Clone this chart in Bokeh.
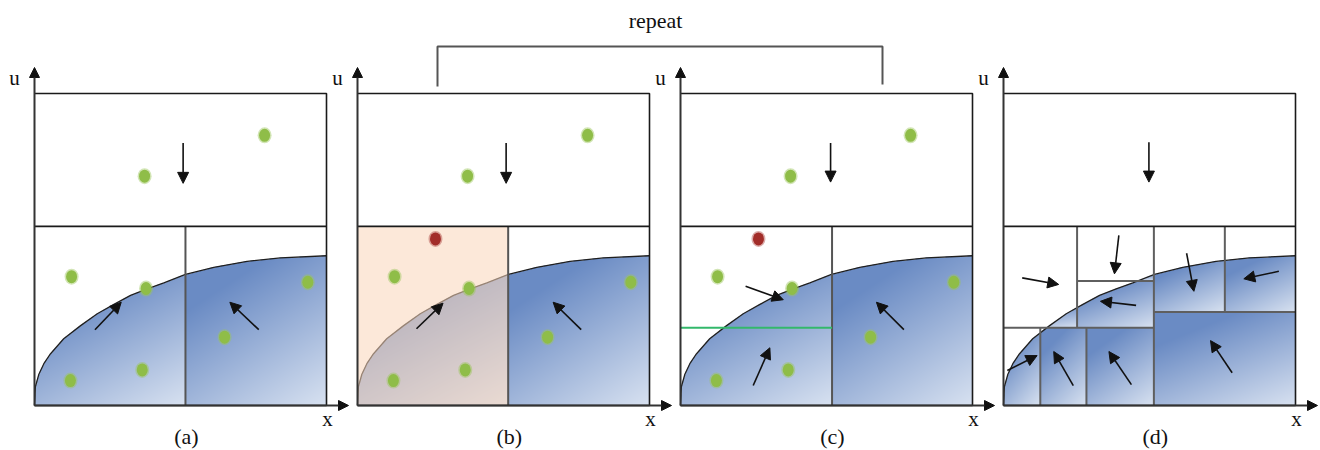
import numpy as np
from bokeh.plotting import figure
from bokeh.models import Range1d, Arrow, NormalHead, ColumnDataSource
from bokeh.core.properties import value
from bokeh.embed import file_html
from bokeh.resources import INLINE

# ---------------- data (panel-local coordinates, x and u in 0..1) ----------------
panel_labels = ["(a)", "(b)", "(c)", "(d)"]
title_text = "repeat"

curve_x = [0.0, 0.003, 0.015, 0.032, 0.055, 0.10, 0.158, 0.215, 0.272, 0.329,
           0.386, 0.443, 0.517, 0.614, 0.728, 0.842, 1.0]
curve_u = [0.0, 0.06, 0.10, 0.134, 0.166, 0.214, 0.256, 0.294, 0.324, 0.353,
           0.374, 0.393, 0.42, 0.443, 0.462, 0.473, 0.48]

split_u = 0.574
divider_x = [0.517, 0.516, 0.519]  # panels a, b, c

green_x = [0.377, 0.788, 0.127, 0.382, 0.936, 0.651, 0.369, 0.123]
green_u = [0.735, 0.866, 0.413, 0.375, 0.395, 0.219, 0.114, 0.080]
red_x = [0.267]
red_u = [0.534]

green_line_u = 0.249  # panel c

# panel d grid: vertical segments (x, u0, u1) and horizontal segments (u, x0, x1)
d_vert_x = [0.252, 0.515, 0.758, 0.126, 0.284]
d_vert_u0 = [0.249, 0.0, 0.30, 0.0, 0.0]
d_vert_u1 = [0.574, 0.574, 0.574, 0.249, 0.249]
d_hor_u = [0.399, 0.249, 0.30]
d_hor_x0 = [0.252, 0.0, 0.515]
d_hor_x1 = [0.515, 0.515, 1.0]

# gradient cells (x0, x1, u0, u1)
cells_abc = [[(0, 0.517, 0, 0.574), (0.517, 1, 0, 0.574)],
             [(0, 0.516, 0, 0.574), (0.516, 1, 0, 0.574)],
             [(0, 0.519, 0, 0.574), (0.519, 1, 0, 0.574)]]
cells_d = [(0, 0.252, 0.249, 0.574), (0.252, 0.515, 0.399, 0.574), (0.252, 0.515, 0.249, 0.399),
           (0.515, 0.758, 0.30, 0.574), (0.758, 1, 0.30, 0.574), (0.515, 1, 0, 0.30),
           (0, 0.126, 0, 0.249), (0.126, 0.284, 0, 0.249), (0.284, 0.515, 0, 0.249)]

# arrows per panel: (x0, u0, x1, u1)
arrows_a = [(0.509, 0.841, 0.509, 0.712), (0.207, 0.243, 0.297, 0.331), (0.768, 0.243, 0.669, 0.331)]
arrows_b = [(0.509, 0.841, 0.509, 0.712), (0.202, 0.246, 0.293, 0.328), (0.766, 0.243, 0.670, 0.331)]
arrows_c = [(0.514, 0.841, 0.514, 0.716), (0.223, 0.382, 0.352, 0.339),
            (0.249, 0.064, 0.306, 0.185), (0.765, 0.243, 0.671, 0.331)]
arrows_d = [(0.498, 0.844, 0.498, 0.716), (0.064, 0.409, 0.189, 0.388), (0.395, 0.545, 0.380, 0.422),
            (0.454, 0.321, 0.332, 0.334), (0.627, 0.488, 0.652, 0.366), (0.943, 0.430, 0.823, 0.406),
            (0.783, 0.105, 0.709, 0.208), (0.013, 0.112, 0.115, 0.160), (0.239, 0.064, 0.172, 0.173),
            (0.438, 0.067, 0.361, 0.173)]
all_arrows = [arrows_a, arrows_b, arrows_c, arrows_d]

# ---------------- layout (pixel geometry) ----------------
PX0 = [34, 357, 680, 1003]
PW = 292
PBOTTOM = 405
PH = 312
IMG_W = 1320
IMG_H = 450


def X(i, xl):
    return PX0[i] + xl * PW


def Y(ul):
    return IMG_H - (PBOTTOM - ul * PH)


def YP(py):
    return IMG_H - py


DARK = np.array([106, 139, 196], dtype=float)
LIGHT = np.array([224, 232, 244], dtype=float)


def panel_image(cells):
    W, H = PW, PH
    xs = (np.arange(W) + 0.5) / W
    us = (np.arange(H) + 0.5) / H
    XX, UU = np.meshgrid(xs, us)
    cu = np.interp(XX, curve_x, curve_u)
    under = UU <= cu
    t = np.zeros(XX.shape)
    for (x0, x1, u0, u1) in cells:
        m = (XX >= x0) & (XX < x1) & (UU >= u0) & (UU < u1)
        top = min(u1, float(np.interp(x1, curve_x, curve_u)))
        xn = (XX - x0) / (x1 - x0)
        un = (top - UU) / (top - u0)
        tt = 1.15 * (0.4 * xn + 0.65 * un) - 0.27
        t[m] = tt[m]
    t = np.clip(t, 0, 1)
    img = np.zeros((H, W), dtype=np.uint32)
    v = img.view(dtype=np.uint8).reshape((H, W, 4))
    for k in range(3):
        v[:, :, k] = (DARK[k] + (LIGHT[k] - DARK[k]) * t).astype(np.uint8)
    v[:, :, 3] = np.where(under, 255, 0).astype(np.uint8)
    return img


p = figure(width=IMG_W, height=IMG_H, x_range=Range1d(0, IMG_W), y_range=Range1d(0, IMG_H),
           output_backend="svg", toolbar_location=None, min_border=0,
           x_axis_type=None, y_axis_type=None)
p.grid.visible = False
p.outline_line_color = None
p.background_fill_color = "white"
p.border_fill_color = "white"

FONT = value("Liberation Serif")


def head(sz):
    return NormalHead(size=sz, fill_color="#111111", line_color="#111111", line_width=1)


for i in range(4):
    cells = cells_abc[i] if i < 3 else cells_d
    p.image_rgba(image=[panel_image(cells)], x=PX0[i], y=Y(0), dw=PW, dh=PH)

    cx = [X(i, v) for v in curve_x]
    cy = [Y(v) for v in curve_u]
    p.line(cx, cy, line_color="#1f1f1f", line_width=1.3)

    if i == 1:
        p.quad(left=X(i, 0), right=X(i, divider_x[1]), bottom=Y(0), top=Y(split_u),
               fill_color="#f9d5ba", fill_alpha=0.55, line_color=None)

    # dividers
    if i < 3:
        p.line([X(i, divider_x[i])] * 2, [Y(0), Y(split_u)], line_color="#555555", line_width=2)
    else:
        p.segment(x0=[X(i, v) for v in d_vert_x], y0=[Y(v) for v in d_vert_u0],
                  x1=[X(i, v) for v in d_vert_x], y1=[Y(v) for v in d_vert_u1],
                  line_color="#5f5f5f", line_width=2)
        p.segment(x0=[X(i, v) for v in d_hor_x0], y0=[Y(v) for v in d_hor_u],
                  x1=[X(i, v) for v in d_hor_x1], y1=[Y(v) for v in d_hor_u],
                  line_color="#5f5f5f", line_width=2)

    if i == 2:
        p.line([X(i, 0), X(i, divider_x[2])], [Y(green_line_u)] * 2,
               line_color="#33b86b", line_width=2)

    # box + split line
    p.line([X(i, 0), X(i, 1), X(i, 1), X(i, 0)], [Y(0), Y(0), Y(1), Y(1)],
           line_color="#1a1a1a", line_width=1.6)
    p.line([X(i, 0), X(i, 1)], [Y(split_u)] * 2, line_color="#1a1a1a", line_width=1.6)

    # dots
    if i < 3:
        gx = [X(i, v) for v in green_x]
        gy = [Y(v) for v in green_u]
        p.ellipse(gx, gy, width=14, height=16, fill_color="#9cc55a", fill_alpha=0.45, line_color=None)
        p.ellipse(gx, gy, width=11, height=13, fill_color="#8fbd48", line_color=None)
    if i in (1, 2):
        rx = [X(i, v) for v in red_x]
        ry = [Y(v) for v in red_u]
        p.ellipse(rx, ry, width=14, height=16, fill_color="#b04a45", fill_alpha=0.45, line_color=None)
        p.ellipse(rx, ry, width=11, height=13, fill_color="#a22d29", line_color=None)

    # arrows
    arr = all_arrows[i]
    src = ColumnDataSource(dict(
        x0=[X(i, a[0]) for a in arr], y0=[Y(a[1]) for a in arr],
        x1=[X(i, a[2]) for a in arr], y1=[Y(a[3]) for a in arr]))
    p.add_layout(Arrow(source=src, x_start="x0", y_start="y0", x_end="x1", y_end="y1",
                       line_color="#111111", line_width=1.6, end=head(11)))

    # axes
    p.add_layout(Arrow(x_start=X(i, 0), y_start=Y(0), x_end=X(i, 0), y_end=YP(67),
                       line_color="#333333", line_width=2, end=head(10)))
    p.add_layout(Arrow(x_start=X(i, 0), y_start=Y(0), x_end=X(i, 0) + 314, y_end=Y(0),
                       line_color="#333333", line_width=2, end=head(10)))

    p.text(x=[X(i, 0) - 20], y=[YP(77)], text=["u"], text_font=FONT, text_font_size="21px",
           text_align="center", text_baseline="middle", text_color="#111111")
    p.text(x=[X(i, 1) + 1], y=[YP(418)], text=["x"], text_font=FONT, text_font_size="21px",
           text_align="center", text_baseline="middle", text_color="#111111")
    p.text(x=[X(i, 0.52)], y=[YP(436)], text=[panel_labels[i]], text_font=FONT,
           text_font_size="22px", text_align="center", text_baseline="middle", text_color="#111111")

# repeat bracket
p.line([437, 437, 882, 882], [YP(86), YP(46), YP(46), YP(84)], line_color="#555555", line_width=2)
p.text(x=[655], y=[YP(20)], text=[title_text], text_font=FONT, text_font_size="22px",
       text_align="center", text_baseline="middle", text_color="#111111")

open("out.html", "w").write(file_html(p, INLINE))
